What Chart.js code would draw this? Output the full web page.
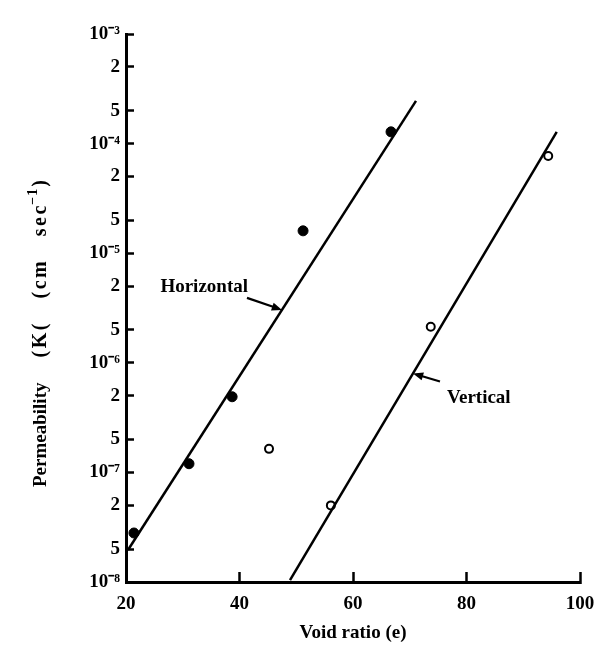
<!DOCTYPE html>
<html>
<head>
<meta charset="utf-8">
<script src="https://cdn.jsdelivr.net/npm/chart.js@4"></script>
<style>
  html, body { margin: 0; padding: 0; background: #fff; }
  #wrap { width: 616px; height: 669px; }
</style>
</head>
<body>
<div id="wrap"><canvas id="chart" width="616" height="669"></canvas></div>
<script>
// Permeability vs void ratio
const horizX = [21.4, 31.1, 38.7, 51.2, 66.7];
const horizK = [2.8e-8, 1.2e-7, 4.9e-7, 1.6e-5, 1.28e-4];
const vertX = [45.2, 56.1, 73.7, 94.4];
const vertK = [1.64e-7, 5.0e-8, 2.13e-6, 7.7e-5];

// fitted lines (end points)
const horizLineX = [20.35, 71.1];
const horizLineK = [1.96e-8, 2.45e-4];
const vertLineX = [48.9, 95.9];
const vertLineK = [1.04e-8, 1.28e-4];

// y tick values and the labels as printed in the figure
const yTickValues = [1e-8, 2e-8, 5e-8, 1e-7, 2e-7, 5e-7, 1e-6, 2e-6, 5e-6, 1e-5, 2e-5, 5e-5, 1e-4, 2e-4, 5e-4, 1e-3];
const yTickLabels = ['10⁻⁸', '5', '2', '10⁻⁷', '5', '2', '10⁻⁶', '5', '2', '10⁻⁵', '5', '2', '10⁻⁴', '5', '2', '10⁻³'];
const xTickValues = [20, 40, 60, 80, 100];

const FONT = "'Liberation Serif', 'Times New Roman', serif";

function pts(xs, ys) {
  return xs.map((x, i) => ({ x: x, y: ys[i] }));
}

// arrow labels
const notes = [
  { text: 'Horizontal', x: 47.49, k: 3.04e-6, tail: [-35, -12], label: [-34, -23], align: 'right' },
  { text: 'Vertical', x: 70.57, k: 7.98e-7, tail: [27, 8], label: [34, 25], align: 'left' }
];

// y title pieces
const yTitleFirst = 'Permeability';
const yTitleWords = ['(K(', '(cm', 'sec'];
const yTitleSup = '−1';
const yTitleEnd = ')';

// draw text char by char with extra spacing, returns the advance
function spaced(ctx, text, x, y, sp, draw) {
  let pos = x;
  for (const ch of text) {
    if (draw) ctx.fillText(ch, pos, y);
    pos += ctx.measureText(ch).width + sp;
  }
  return pos - x - sp;
}

const notesPlugin = {
  id: 'notes',
  afterDatasetsDraw(chart) {
    const { ctx, scales } = chart;
    ctx.save();
    ctx.fillStyle = '#000';
    ctx.strokeStyle = '#000';
    ctx.font = 'bold 19px ' + FONT;
    notes.forEach(n => {
      const hx = scales.x.getPixelForValue(n.x);
      const hy = scales.y.getPixelForValue(n.k);
      const tx = hx + n.tail[0], ty = hy + n.tail[1];
      const ang = Math.atan2(hy - ty, hx - tx);
      ctx.lineWidth = 2.2;
      ctx.beginPath();
      ctx.moveTo(tx, ty);
      ctx.lineTo(hx - 8 * Math.cos(ang), hy - 8 * Math.sin(ang));
      ctx.stroke();
      ctx.beginPath();
      ctx.moveTo(hx, hy);
      ctx.lineTo(hx - 11 * Math.cos(ang - 0.38), hy - 11 * Math.sin(ang - 0.38));
      ctx.lineTo(hx - 11 * Math.cos(ang + 0.38), hy - 11 * Math.sin(ang + 0.38));
      ctx.closePath();
      ctx.fill();
      ctx.textAlign = n.align;
      ctx.textBaseline = 'middle';
      ctx.fillText(n.text, hx + n.label[0], hy + n.label[1]);
    });

    // y axis title, rotated, from y=487 up to about y=180
    ctx.translate(46, 487);
    ctx.rotate(-Math.PI / 2);
    ctx.textAlign = 'left';
    ctx.textBaseline = 'alphabetic';
    const big = 'bold 19px ' + FONT, mid = 'bold 20px ' + FONT, small = 'bold 14px ' + FONT;
    const sp = 2.5;
    ctx.font = big;
    const wFirst = ctx.measureText(yTitleFirst).width;
    ctx.font = mid;
    const wWords = yTitleWords.map(w => spaced(ctx, w, 0, 0, sp, false));
    const wEnd = ctx.measureText(yTitleEnd).width;
    ctx.font = small;
    const wSup = spaced(ctx, yTitleSup, 0, 0, 1, false);
    const used = wFirst + wWords.reduce((a, b) => a + b, 0) + wSup + wEnd + 3;
    const gap = (307 - used) / yTitleWords.length;
    ctx.font = big;
    ctx.fillText(yTitleFirst, 0, 0);
    let pos = wFirst + gap;
    ctx.font = mid;
    yTitleWords.forEach((w, i) => {
      spaced(ctx, w, pos, 0, sp, true);
      pos += wWords[i] + (i < yTitleWords.length - 1 ? gap : 0);
    });
    ctx.font = small;
    spaced(ctx, yTitleSup, pos + 1, -9, 1, true);
    pos += wSup + 3;
    ctx.font = mid;
    ctx.fillText(yTitleEnd, pos, 0);
    ctx.restore();
  }
};

new Chart(document.getElementById('chart').getContext('2d'), {
  type: 'scatter',
  data: {
    datasets: [
      {
        type: 'line',
        data: pts(horizLineX, horizLineK),
        borderColor: '#000',
        borderWidth: 2.5,
        pointRadius: 0,
        fill: false
      },
      {
        type: 'line',
        data: pts(vertLineX, vertLineK),
        borderColor: '#000',
        borderWidth: 2.5,
        pointRadius: 0,
        fill: false
      },
      {
        label: 'Horizontal',
        data: pts(horizX, horizK),
        pointRadius: 5,
        backgroundColor: '#000',
        borderColor: '#000',
        borderWidth: 1
      },
      {
        label: 'Vertical',
        data: pts(vertX, vertK),
        pointRadius: 4,
        backgroundColor: '#fff',
        borderColor: '#000',
        borderWidth: 2
      }
    ]
  },
  options: {
    responsive: false,
    animation: false,
    events: [],
    layout: { padding: { top: 34, right: 36, left: 0, bottom: 0 } },
    plugins: { legend: { display: false }, tooltip: { enabled: false } },
    scales: {
      x: {
        type: 'linear',
        min: 20,
        max: 100,
        afterFit(scale) { scale.height = 87; },
        afterBuildTicks(scale) { scale.ticks = xTickValues.map(v => ({ value: v })); },
        grid: { drawOnChartArea: false, tickLength: -10, tickWidth: 2.5, tickColor: '#000' },
        border: { display: true, color: '#000', width: 3 },
        ticks: { color: '#000', padding: 21, maxRotation: 0, font: { family: FONT, size: 19, weight: 'bold' } },
        title: {
          display: true,
          text: 'Void ratio (e)',
          color: '#000',
          font: { family: FONT, size: 19, weight: 'bold' },
          padding: { top: 0, bottom: 25 }
        }
      },
      y: {
        type: 'logarithmic',
        min: 1e-8,
        max: 1e-3,
        afterFit(scale) { scale.width = 126; },
        afterBuildTicks(scale) { scale.ticks = yTickValues.map(v => ({ value: v })); },
        grid: { drawOnChartArea: false, tickLength: -8, tickWidth: 2.5, tickColor: '#000' },
        border: { display: true, color: '#000', width: 3 },
        ticks: {
          color: '#000',
          padding: 14,
          autoSkip: false,
          font: { family: FONT, size: 19, weight: 'bold' },
          callback: (value, i) => yTickLabels[i]
        }
      }
    }
  },
  plugins: [notesPlugin]
});
</script>
</body>
</html>
